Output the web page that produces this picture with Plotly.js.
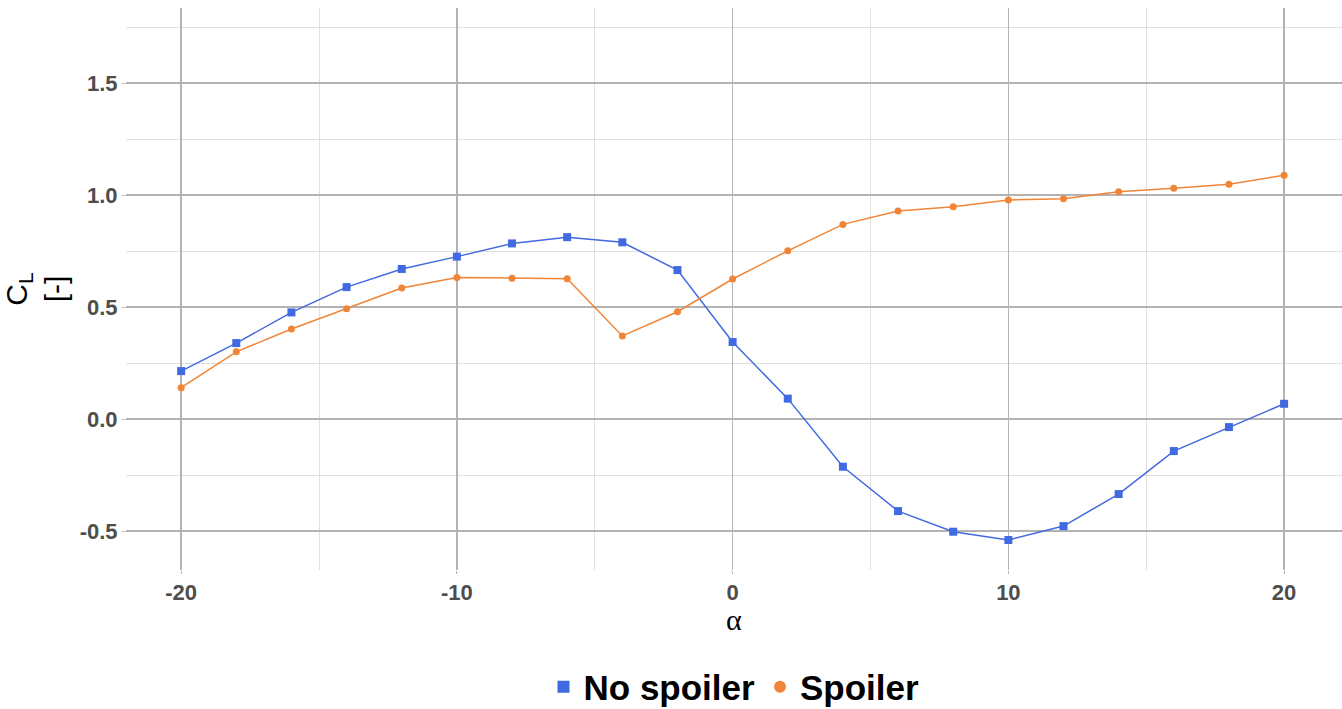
<!DOCTYPE html>
<html>
<head>
<meta charset="utf-8">
<script src="https://cdn.plot.ly/plotly-3.0.1.min.js"></script>
<style>html,body{margin:0;padding:0;background:#fff;}#chart{width:1342px;height:709px;}</style>
</head>
<body>
<div id="chart"></div>
<script>
const alpha = [-20,-18,-16,-14,-12,-10,-8,-6,-4,-2,0,2,4,6,8,10,12,14,16,18,20];
const noSpoiler = [0.214,0.339,0.476,0.589,0.670,0.725,0.784,0.812,0.789,0.665,0.344,0.091,-0.213,-0.411,-0.503,-0.540,-0.478,-0.335,-0.143,-0.036,0.068];
const spoiler = [0.140,0.300,0.402,0.492,0.585,0.632,0.629,0.626,0.371,0.479,0.625,0.751,0.869,0.929,0.948,0.978,0.983,1.015,1.030,1.048,1.088];
const seriesNames = ["No spoiler","Spoiler"];
const yTicks = [-0.5,0.0,0.5,1.0,1.5];
const xTicks = [-20,-10,0,10,20];

const blue = "#4169E1", orange = "#EF8536";
const traces = [
  {x: alpha, y: noSpoiler, name: seriesNames[0], type: "scatter", mode: "lines", showlegend: false,
   line: {color: blue, width: 1.5}},
  {x: alpha, y: spoiler, name: seriesNames[1], type: "scatter", mode: "lines", showlegend: false,
   line: {color: orange, width: 1.5}},
  {x: alpha, y: noSpoiler, name: seriesNames[0], type: "scatter", mode: "markers",
   marker: {symbol: "square", size: 8, color: blue}},
  {x: alpha, y: spoiler, name: seriesNames[1], type: "scatter", mode: "markers",
   marker: {symbol: "circle", size: 7, color: orange}}
];

const layout = {
  width: 1342, height: 709,
  margin: {l: 126, r: 0, t: 8, b: 139},
  paper_bgcolor: "#fff", plot_bgcolor: "#fff",
  font: {family: "Liberation Sans, Arial, sans-serif"},
  showlegend: true,
  legend: {orientation: "h", x: 0.5, xanchor: "center", xref: "paper",
           y: 0.031, yanchor: "middle", yref: "container",
           font: {size: 35, color: "#000", family: "Liberation Sans, Arial, sans-serif", weight: "bold"},
           itemsizing: "constant", itemwidth: 30},
  annotations: [{text: "\u03b1", xref: "paper", yref: "paper", x: 0.5, y: -0.088,
                 xanchor: "center", yanchor: "middle", showarrow: false,
                 font: {size: 30, color: "#000", family: "Liberation Serif, Times New Roman, serif"}}],
  xaxis: {
    range: [-22, 22.1], tickvals: xTicks, ticktext: xTicks.map(String),
    automargin: false,
    showgrid: true, gridcolor: "#b3b3b3", gridwidth: 1.6, zeroline: false,
    ticks: "outside", ticklen: 3, tickcolor: "#b3b3b3", tickwidth: 1,
    tickfont: {size: 22, color: "#4d4d4d", weight: "bold"},
    minor: {dtick: 5, tick0: 0, showgrid: true, gridcolor: "#e0e0e0", gridwidth: 1},
    showline: false
  },
  yaxis: {
    range: [-0.674, 1.835], tickvals: yTicks, ticktext: yTicks.map(v => v.toFixed(1)),
    automargin: false,
    showgrid: true, gridcolor: "#b3b3b3", gridwidth: 1.6, zeroline: false,
    ticks: "outside", ticklen: 3, tickcolor: "#b3b3b3", tickwidth: 1,
    tickfont: {size: 22, color: "#4d4d4d", weight: "bold"},
    minor: {dtick: 0.25, tick0: 0, showgrid: true, gridcolor: "#e0e0e0", gridwidth: 1},
    showline: false,
    title: {text: "C<sub>L</sub><br>[-]", font: {size: 30, color: "#000"}, standoff: 12}
  }
};

Plotly.newPlot("chart", traces, layout, {displayModeBar: false, staticPlot: true});
</script>
</body>
</html>
